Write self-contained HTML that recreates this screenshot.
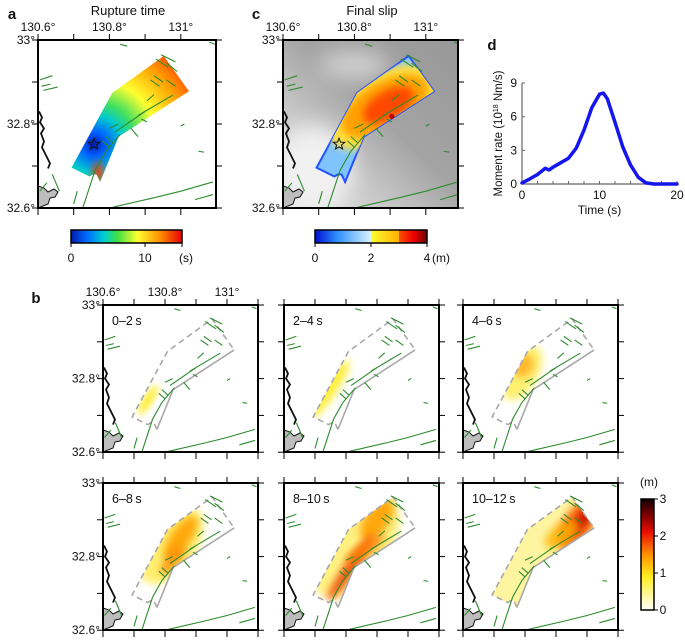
<!DOCTYPE html>
<html><head><meta charset="utf-8">
<style>
html,body{margin:0;padding:0;background:#fff;}
svg{display:block;font-family:"Liberation Sans",Arial,sans-serif;}
</style></head>
<body>
<svg id="fig" width="685" height="640" viewBox="0 0 685 640" xmlns="http://www.w3.org/2000/svg">
<defs>
  <filter id="blur4" x="-50%" y="-50%" width="200%" height="200%"><feGaussianBlur stdDeviation="4"/></filter>
  <filter id="blur8" x="-50%" y="-50%" width="200%" height="200%"><feGaussianBlur stdDeviation="10"/></filter>
  <linearGradient id="cbRupture" x1="0" x2="1" y1="0" y2="0">
    <stop offset="0" stop-color="#0018b0"/><stop offset="0.15" stop-color="#0070ff"/>
    <stop offset="0.3" stop-color="#00d0d0"/><stop offset="0.42" stop-color="#40e040"/>
    <stop offset="0.6" stop-color="#ffff30"/><stop offset="0.8" stop-color="#ff9000"/>
    <stop offset="1" stop-color="#e80000"/>
  </linearGradient>
  <linearGradient id="cbSlip" x1="0" x2="1" y1="0" y2="0">
    <stop offset="0" stop-color="#0010d0"/><stop offset="0.2" stop-color="#3090ff"/>
    <stop offset="0.5" stop-color="#d8f4ff"/><stop offset="0.5" stop-color="#ffff30"/>
    <stop offset="0.75" stop-color="#ffb000"/><stop offset="0.75" stop-color="#ff5000"/>
    <stop offset="0.88" stop-color="#ee0000"/><stop offset="1" stop-color="#700000"/>
  </linearGradient>
  <linearGradient id="cbB" x1="0" x2="0" y1="1" y2="0">
    <stop offset="0" stop-color="#ffffff"/><stop offset="0.3" stop-color="#ffee20"/>
    <stop offset="0.5" stop-color="#ff9000"/><stop offset="0.7" stop-color="#e81000"/>
    <stop offset="0.85" stop-color="#800000"/><stop offset="1" stop-color="#100000"/>
  </linearGradient>
  <linearGradient id="terrain" x1="0" y1="1" x2="1" y2="0">
    <stop offset="0" stop-color="#e4e4e4"/><stop offset="0.3" stop-color="#c8c8c8"/>
    <stop offset="0.55" stop-color="#a4a4a4"/><stop offset="1" stop-color="#989898"/>
  </linearGradient>
</defs>
<g id="root"></g>
</svg>
<script>
// ---- moment-rate data (panel d) ----
const mrTime = [0,1,2,3,3.5,4,5,6,7,8,9,10,10.5,11,12,13,14,15,16,17,18,19,20];
const mrValue = [0.1,0.45,0.85,1.4,1.25,1.5,1.9,2.3,3.2,4.8,6.8,8.0,8.1,7.6,5.5,3.3,1.7,0.6,0.1,0,0,0,0];
const mrXTicks = [0,10,20];
const mrYTicks = [0,3,6,9];
// ---- fault plane outline (lon, lat) ----
const faultLon = [130.694,130.808,130.952,131.023,130.826,130.774,130.764,130.754,130.744];
const faultLat = [32.696,32.874,32.962,32.878,32.770,32.662,32.680,32.680,32.675];
const hypoLon = 130.757, hypoLat = 32.752;
// ---- active faults (green) as segments lon1,lat1,lon2,lat2 ----
const faultSegs = [
 [130.726,32.602,130.760,32.690],[130.760,32.690,130.790,32.735],[130.790,32.735,130.830,32.775],
 [130.816,32.781,130.900,32.830],[130.900,32.830,130.978,32.869],[130.810,32.602,130.933,32.626],
 [130.933,32.626,131.000,32.640],[131.000,32.640,131.090,32.662],[131.040,32.620,131.090,32.632],
 [130.930,32.955,130.965,32.935],[130.945,32.965,130.985,32.948],[130.960,32.945,130.990,32.925],
 [130.915,32.905,130.940,32.890],[130.925,32.915,130.950,32.900],[130.960,32.905,130.985,32.890],
 [130.605,32.905,130.640,32.915],[130.610,32.890,130.635,32.895],[130.615,32.880,130.655,32.888],
 [130.800,32.790,130.825,32.800],[130.790,32.770,130.810,32.755],[130.780,32.760,130.800,32.745],
 [130.880,32.820,130.900,32.830],[130.890,32.812,130.905,32.805],[131.000,32.795,131.010,32.800],
 [131.050,32.735,131.065,32.733],[131.095,32.990,131.080,32.995],[130.830,32.990,130.850,32.985],
 [130.640,32.680,130.660,32.640],[130.700,32.610,130.710,32.640],[130.860,32.790,130.880,32.770],
 [130.605,32.640,130.625,32.660],[130.905,32.855,130.925,32.870]
];
// ---- slip snapshots (panel b): blobs lon,lat,rx(px),ry(px),rot,color,opacity ----
const snapLabels = ["0\u20132\u2009s","2\u20134\u2009s","4\u20136\u2009s","6\u20138\u2009s","8\u201310\u2009s","10\u201312\u2009s"];
const snapBlobs = [
 [[130.745,32.742,4,17,32,"#ffe800",1]],
 [[130.748,32.772,7,34,33,"#ffee30",1]],
 [[130.790,32.815,16,30,30,"#fff070",1],[130.795,32.835,9,12,30,"#ffb020",0.9]],
 [[130.820,32.830,24,44,35,"#fff070",1],[130.850,32.850,10,26,35,"#ffa000",0.9],[130.825,32.790,6,18,40,"#ff8000",0.8]],
 [[130.830,32.830,34,60,35,"#fff080",1],[130.900,32.900,12,24,35,"#ffa000",0.9],[130.815,32.770,6,40,35,"#f04000",0.9],[130.860,32.820,6,24,55,"#ff8000",0.8]],
 [[130.870,32.830,50,80,35,"#fff5a0",1],[130.970,32.890,14,30,35,"#ff6000",0.9],[130.985,32.900,6,20,35,"#c00000",0.8],[130.920,32.860,10,20,55,"#ffb000",0.8]]
];
const slipBarTicks = [0,1,2,3];

const NS="http://www.w3.org/2000/svg";
const root=document.getElementById('root');
function el(tag,attrs,parent){const e=document.createElementNS(NS,tag);for(const k in attrs)e.setAttribute(k,attrs[k]);(parent||root).appendChild(e);return e;}
function txt(x,y,s,size,anchor,parent,weight){const t=el('text',{x:x,y:y,'font-size':size,'text-anchor':anchor||'middle','fill':'#111'},parent);if(weight)t.setAttribute('font-weight',weight);t.textContent=s;return t;}

function makeMap(id,x0,y0,w,h,pxLon,pxLat,opts){
  const g=el('g',{});
  
  
  const X=lon=>x0+(lon-130.6)*pxLon, Y=lat=>y0+(33-lat)*pxLat;
  const clip=el('clipPath',{id:'clip-'+id},g);
  el('rect',{x:x0,y:y0,width:w,height:h},clip);
  const inner=el('g',{'clip-path':'url(#clip-'+id+')'},g);
  if(opts.terrain){
    el('rect',{x:x0,y:y0,width:w,height:h,fill:'url(#terrain)'},inner);
    el('ellipse',{cx:x0+30,cy:y0+130,rx:40,ry:45,fill:'#f0f0f0',filter:'url(#blur8)'},inner);
    el('ellipse',{cx:x0+70,cy:y0+25,rx:35,ry:14,fill:'#d0d0d0',filter:'url(#blur8)'},inner);
  }
  const pts=faultLon.map((l,i)=>X(l)+','+Y(faultLat[i])).join(' ');
  const pclip=el('clipPath',{id:'pclip-'+id},g);
  el('polygon',{points:pts},pclip);
  if(opts.mode==='rupture'){
    const rg=el('radialGradient',{id:'rg-'+id,gradientUnits:'userSpaceOnUse',cx:X(hypoLon),cy:Y(hypoLat),r:118},g);
    [[0,'#0018b0'],[0.1,'#0060ff'],[0.24,'#00c8d0'],[0.36,'#40e060'],[0.55,'#ffff30'],[0.8,'#ffa000'],[1,'#ff4000']].forEach(s=>el('stop',{offset:s[0],'stop-color':s[1]},rg));
    const fp=el('polygon',{points:pts,fill:'url(#rg-'+id+')'},inner);
    
    
    const pg=el('g',{'clip-path':'url(#pclip-'+id+')'},inner);
    el('ellipse',{cx:X(130.768),cy:Y(32.685),rx:5,ry:10,fill:'#ff3000',filter:'url(#blur4)'},pg);
  } else if(opts.mode==='slip'){
    const fp=el('polygon',{points:pts,fill:'#80c4ff',stroke:'#2050ff','stroke-width':2},inner);
    
    
    const pg=el('g',{'clip-path':'url(#pclip-'+id+')'},inner);
    el('ellipse',{cx:X(130.880),cy:Y(32.840),rx:62,ry:34,transform:'rotate(-30 '+X(130.880)+' '+Y(32.840)+')',fill:'#ffe040',filter:'url(#blur4)'},pg);
    el('ellipse',{cx:X(130.885),cy:Y(32.842),rx:48,ry:24,transform:'rotate(-30 '+X(130.885)+' '+Y(32.842)+')',fill:'#ffa000',filter:'url(#blur4)'},pg);
    el('ellipse',{cx:X(130.895),cy:Y(32.845),rx:28,ry:14,transform:'rotate(-30 '+X(130.895)+' '+Y(32.845)+')',fill:'#ff4800',filter:'url(#blur4)'},pg);
    el('circle',{cx:X(130.905),cy:Y(32.818),r:2.5,fill:'#c00000'},inner);
  } else if(opts.mode==='snap'){
    const pg=el('g',{'clip-path':'url(#pclip-'+id+')'},inner);
    opts.blobs.forEach(b=>{
      const cx=X(b[0]),cy=Y(b[1]);
      const e=el('ellipse',{cx:cx,cy:cy,rx:b[2],ry:b[3],transform:'rotate('+b[4]+' '+cx+' '+cy+')',fill:b[5],opacity:b[6],filter:'url(#blur4)'},pg);
      
      
    });
    const p=faultLon.map((l,i)=>[X(l),Y(faultLat[i])]);
    el('polyline',{points:[p[5],p[6],p[7],p[8],p[0],p[1],p[2],p[3]].map(q=>q.join(',')).join(' '),fill:'none',stroke:'#a8a8a8','stroke-width':1.6,'stroke-dasharray':'6,4'},inner);
    el('polyline',{points:[p[3],p[4],p[5]].map(q=>q.join(',')).join(' '),fill:'none',stroke:'#a8a8a8','stroke-width':1.6},inner);
  }
  const cst=el('path',{d:'M'+x0+','+(y0+h-22)+' l6,2 l4,4 l6,-3 l4,3 l-3,5 l-5,1 l-2,6 l-10,4 z',fill:'#bdbdbd',stroke:'#111','stroke-width':1},inner);
  
  
  el('path',{d:'M'+(x0+1)+','+Y(32.83)+' l3,6 l-2,5 l4,6 l-3,5 l3,8 l-2,6 l5,10 l3,6 l-2,5',fill:'none',stroke:'#111','stroke-width':1.8},inner);
  faultSegs.forEach(s=>{
    const l=el('line',{x1:X(s[0]),y1:Y(s[1]),x2:X(s[2]),y2:Y(s[3]),stroke:'#2e8b2e','stroke-width':1.1},inner);
    
    
  });
  if(opts.star){
    const cx=X(hypoLon),cy=Y(hypoLat);let d='';
    for(let i=0;i<10;i++){const r=i%2?2.6:6,a=-Math.PI/2+i*Math.PI/5;d+=(i?'L':'M')+(cx+r*Math.cos(a)).toFixed(1)+','+(cy+r*Math.sin(a)).toFixed(1);}
    const st=el('path',{d:d+'Z',fill:'none',stroke:'#111','stroke-width':1},inner);
    
    
  }
  el('rect',{x:x0,y:y0,width:w,height:h,fill:'none',stroke:'#000','stroke-width':2},g);
  for(let lon=130.6;lon<130.6+w/pxLon+0.001;lon+=0.1){
    const x=X(lon);
    el('line',{x1:x,y1:y0,x2:x,y2:y0-6,stroke:'#000','stroke-width':1},g);
    el('line',{x1:x,y1:y0+h,x2:x,y2:y0+h+7,stroke:'#000','stroke-width':1},g);
  }
  for(let lat=32.6;lat<33.001;lat+=0.1){
    const y=Y(lat);
    el('line',{x1:x0,y1:y,x2:x0-6,y2:y,stroke:'#000','stroke-width':1},g);
    el('line',{x1:x0+w,y1:y,x2:x0+w+6,y2:y,stroke:'#000','stroke-width':1},g);
  }
  if(opts.lonLabels){
    [[130.6,'130.6\u00b0'],[130.8,'130.8\u00b0'],[131,'131\u00b0']].forEach(a=>{const t=txt(X(a[0]),y0-9,a[1],12,'middle',g);});
  }
  if(opts.latLabels){
    [[33,'33\u00b0'],[32.8,'32.8\u00b0'],[32.6,'32.6\u00b0']].forEach(a=>{const t=txt(x0-3,Y(a[0])+4,a[1],12,'end',g);});
  }
  if(opts.label){const t=txt(x0+9,y0+20,opts.label,12.5,'start',g);}
  return g;
}

txt(12,19,'a',15,'middle',root,'bold');
txt(128,15,'Rupture time',13,'middle');
makeMap('panel-a-rupture-map',38,40,178,168,357,420,{mode:'rupture',star:true,lonLabels:true,latLabels:true});
txt(256,19,'c',15,'middle',root,'bold');
txt(372,15,'Final slip',13,'middle');
makeMap('panel-c-slip-map',283,40,175,168,357,420,{mode:'slip',star:true,terrain:true,lonLabels:true,latLabels:true});

function hbar(name,x,y,w,fill,ticks,unit){
  const g=el('g',{});
  
  
  el('rect',{x:x,y:y,width:w,height:13,fill:fill,stroke:'#000','stroke-width':1.5},g);
  ticks.forEach(t=>{const tx=x+t[0]*w;el('line',{x1:tx,y1:y+13,x2:tx,y2:y+17,stroke:'#000'},g);txt(tx,y+32,t[1],12,'middle',g);});
  txt(x+w+(unit==='(s)'?4:14),y+32,unit,12,'middle',g);
}
hbar('rupture-time-colorbar',71,230,111,'url(#cbRupture)',[[0,'0'],[2/3,'10'],[1,'']],'(s)');
hbar('slip-colorbar',315,230,112,'url(#cbSlip)',[[0,'0'],[0.5,'2'],[1,'4']],'(m)');

(function(){
  const g=el('g',{});
  
  
  const x0=522,x1=677,yb=184,yt=83;
  const X=t=>x0+(t/20)*(x1-x0), Y=v=>yb-(v/9)*(yb-yt);
  txt(492,50,'d',15,'middle',g,'bold');
  el('line',{x1:x0,y1:yb,x2:x1,y2:yb,stroke:'#666','stroke-width':1.2},g);
  el('line',{x1:x0,y1:yb,x2:x0,y2:yt,stroke:'#666','stroke-width':1.2},g);
  for(let t=0;t<=20;t+=2){el('line',{x1:X(t),y1:yb,x2:X(t),y2:yb-3,stroke:'#666'},g);}
  mrXTicks.forEach(t=>{const s=txt(X(t),yb+15,String(t),12,'middle',g);});
  mrYTicks.forEach(v=>{el('line',{x1:x0,y1:Y(v),x2:x0+3,y2:Y(v),stroke:'#666'},g);const s=txt(x0-5,Y(v)+4,String(v),12,'end',g);});
  const xt=txt((x0+x1)/2,yb+30,'Time (s)',12,'middle',g);
  
  
  const yl=el('text',{x:0,y:0,'font-size':11.5,'text-anchor':'middle',transform:'translate(502,'+((yb+yt)/2)+') rotate(-90)',fill:'#111'},g);
  
  
  yl.innerHTML='Moment rate (10<tspan font-size="7" dy="-4">18</tspan><tspan dy="4"> Nm/s)</tspan>';
  const line=el('polyline',{points:mrTime.map((t,i)=>X(t).toFixed(1)+','+Y(mrValue[i]).toFixed(1)).join(' '),fill:'none',stroke:'#1515ee','stroke-width':3.5,'stroke-linejoin':'round','stroke-linecap':'round'},g);
  
  
})();

txt(36,303,'b',15,'middle',root,'bold');
const bx=[103,284,463], by=[305,483];
for(let i=0;i<6;i++){
  const r=Math.floor(i/3),c=i%3;
  makeMap('snapshot-'+snapLabels[i].replace(/\W+/g,'-'),bx[c],by[r],155,147,310,368,{mode:'snap',blobs:snapBlobs[i],label:snapLabels[i],lonLabels:(r===0&&c===0),latLabels:(c===0)});
}
(function(){
  const g=el('g',{});
  
  
  const x=641,y=499,w=13,h=111;
  el('rect',{x:x,y:y,width:w,height:h,fill:'url(#cbB)',stroke:'#000','stroke-width':1.5},g);
  slipBarTicks.forEach(v=>{const ty=y+h-(v/3)*h;el('line',{x1:x+w,y1:ty,x2:x+w+4,y2:ty,stroke:'#000'},g);txt(x+w+9,ty+4,String(v),12,'middle',g);});
  txt(x+8,y-13,'(m)',12,'middle',g);
})();
</script>
</body></html>
